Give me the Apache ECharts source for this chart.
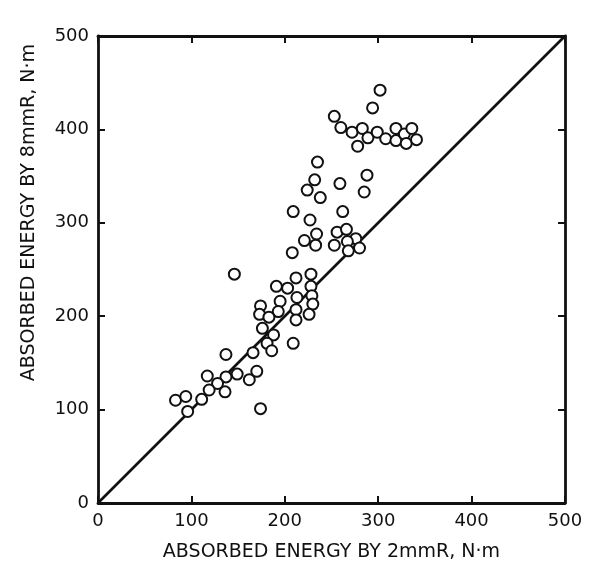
<!DOCTYPE html>
<html>
<head>
<meta charset="utf-8">
<script src="https://cdn.jsdelivr.net/npm/echarts@6/dist/echarts.min.js"></script>
<style>
html,body{margin:0;padding:0;background:#fff;}
#chart{width:593px;height:567px;}
</style>
</head>
<body>
<div id="chart"></div>
<script>
// Absorbed energy by 2mmR striker (x) vs 8mmR striker (y), N·m
var energy2mmR = [
  302,294,253,260,272,283,289,299,278,308,319,319,328,330,336,341,235,
  232,224,238,259,288,285,209,227,262,234,221,233,256,266,276,267,253,268,280,208,
  146,191,203,212,228,228,229,230,213,195,174,193,173,183,212,226,212,176,188,181,209,186,166,137,
  117,137,149,128,119,136,111,162,170,83,94,96,174
];
var energy8mmR = [
  442,423,414,402,397,401,391,397,382,390,401,388,395,385,401,389,365,
  346,335,327,342,351,333,312,303,312,288,281,276,290,293,283,280,276,270,273,268,
  245,232,230,241,245,232,222,213,220,216,211,205,202,199,207,202,196,187,180,171,171,163,161,159,
  136,135,138,128,121,119,111,132,141,110,114,98,101
];
var equalityLine = [[0,0],[500,500]];
var tickValues = [0,100,200,300,400,500];
var xTitle = 'ABSORBED ENERGY BY 2mmR, N·m';
var yTitle = 'ABSORBED ENERGY BY 8mmR, N·m';

var points = energy2mmR.map(function(v,i){ return [v, energy8mmR[i]]; });

var FONT = 'DejaVu Sans';
var axisLine = {show:true, onZero:false, lineStyle:{color:'#111', width:2.8}};
var axisTick = {show:true, inside:true, length:7, lineStyle:{color:'#111', width:2}};

var chart = echarts.init(document.getElementById('chart'), null, {renderer:'canvas'});
chart.setOption({
  backgroundColor:'#ffffff',
  animation:false,
  grid:{left:98, right:28, top:36, bottom:63},
  xAxis:[{
    type:'value', min:0, max:500, interval:100, position:'bottom',
    axisLine:axisLine, axisTick:axisTick, splitLine:{show:false},
    axisLabel:{color:'#111', fontFamily:FONT, fontSize:18, margin:9,
      formatter:function(v){return tickValues.indexOf(v)>=0 ? String(v) : '';}},
    name:xTitle, nameLocation:'middle', nameGap:40,
    nameTextStyle:{color:'#111', fontFamily:FONT, fontSize:19}
  },{
    type:'value', min:0, max:500, interval:100, position:'top',
    axisLine:axisLine, axisTick:axisTick, splitLine:{show:false},
    axisLabel:{show:false}
  }],
  yAxis:[{
    type:'value', min:0, max:500, interval:100, position:'left',
    axisLine:axisLine, axisTick:axisTick, splitLine:{show:false},
    axisLabel:{color:'#111', fontFamily:FONT, fontSize:18, margin:9}
  },{
    type:'value', min:0, max:500, interval:100, position:'right',
    axisLine:axisLine, axisTick:axisTick, splitLine:{show:false},
    axisLabel:{show:false}
  }],
  graphic:[{
    type:'text', left:20, top:44, rotation:Math.PI/2,
    style:{text:yTitle, fill:'#111', font:'19px "DejaVu Sans"'}
  }],
  series:[{
    type:'line', data:equalityLine, xAxisIndex:0, yAxisIndex:0,
    showSymbol:false, symbol:'none',
    lineStyle:{color:'#111', width:2.6}, z:2
  },{
    type:'scatter', data:points, xAxisIndex:0, yAxisIndex:0,
    symbol:'circle', symbolSize:11,
    itemStyle:{color:'#ffffff', borderColor:'#111', borderWidth:2, opacity:1},
    z:3
  }]
});
</script>
</body>
</html>
